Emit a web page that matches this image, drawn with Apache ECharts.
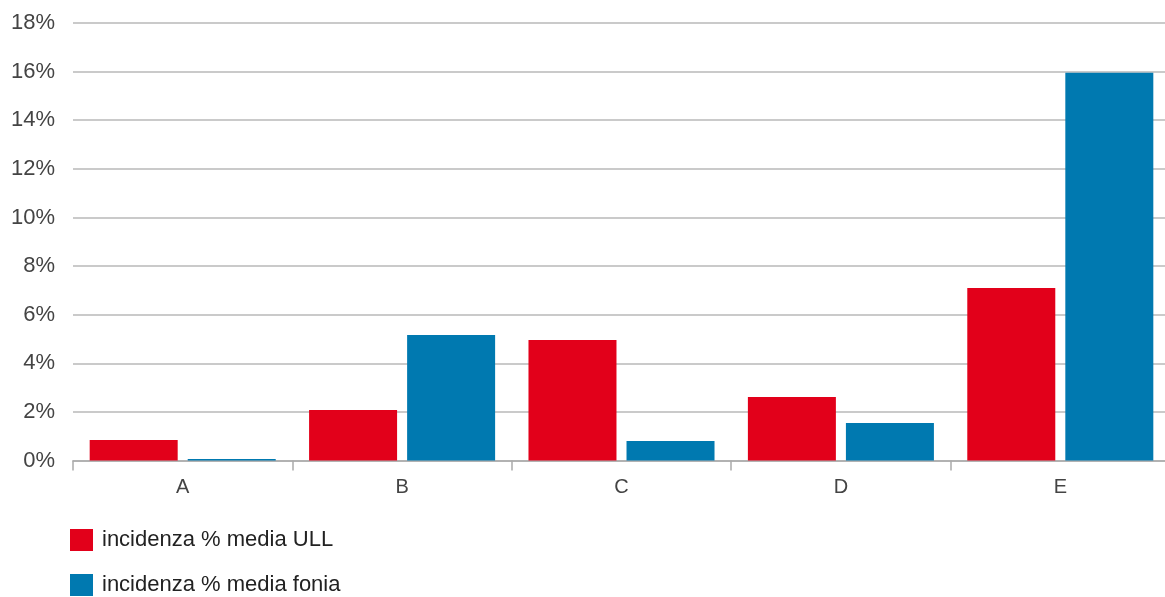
<!DOCTYPE html>
<html>
<head>
<meta charset="utf-8">
<script src="https://cdn.jsdelivr.net/npm/echarts@6/dist/echarts.min.js"></script>
<style>
  html, body { margin: 0; padding: 0; background: #fff; overflow: hidden; }
  #chart { width: 1170px; height: 597px; }
</style>
</head>
<body>
<div id="chart"></div>
<script>
const categories = ['A', 'B', 'C', 'D', 'E'];
const seriesNames = ['incidenza % media ULL', 'incidenza % media fonia'];
const ullValues = [0.84, 2.08, 4.96, 2.61, 7.10];
const foniaValues = [0.06, 5.16, 0.80, 1.54, 15.95];
const seriesColors = ['#E2001A', '#0079B0'];

const chart = echarts.init(document.getElementById('chart'), null, { renderer: 'canvas' });

const legendBase = {
  orient: 'vertical',
  left: 70,
  padding: 0,
  itemWidth: 23,
  itemHeight: 22,
  icon: 'rect',
  textStyle: { fontSize: 22, color: '#222', padding: [2, 0, 0, 4] }
};

chart.setOption({
  animation: false,
  textStyle: { fontFamily: '"Liberation Sans", Arial, sans-serif' },
  grid: { left: 73, top: 23, right: 0, height: 437.5, containLabel: false },
  legend: [
    Object.assign({}, legendBase, { top: 529, data: [seriesNames[0]] }),
    Object.assign({}, legendBase, { top: 574, data: [seriesNames[1]] })
  ],
  xAxis: {
    type: 'category',
    data: categories,
    axisLine: { lineStyle: { color: '#aaa', width: 1.5 } },
    axisTick: { show: true, length: 10, lineStyle: { color: '#aaa', width: 1.5 } },
    axisLabel: { fontSize: 20, color: '#444', margin: 17 }
  },
  yAxis: {
    type: 'value',
    min: 0,
    max: 18,
    interval: 2,
    axisLine: { show: false },
    axisTick: { show: false },
    axisLabel: { fontSize: 22, color: '#444', margin: 18, formatter: v => v + '%' },
    splitLine: { lineStyle: { color: '#b8b8b8', width: 1.5 } }
  },
  series: [
    {
      name: seriesNames[0],
      type: 'bar',
      data: ullValues,
      barWidth: 88,
      barGap: '11.4%',
      itemStyle: { color: seriesColors[0] }
    },
    {
      name: seriesNames[1],
      type: 'bar',
      data: foniaValues,
      barWidth: 88,
      barGap: '11.4%',
      itemStyle: { color: seriesColors[1] }
    }
  ]
});
</script>
</body>
</html>
